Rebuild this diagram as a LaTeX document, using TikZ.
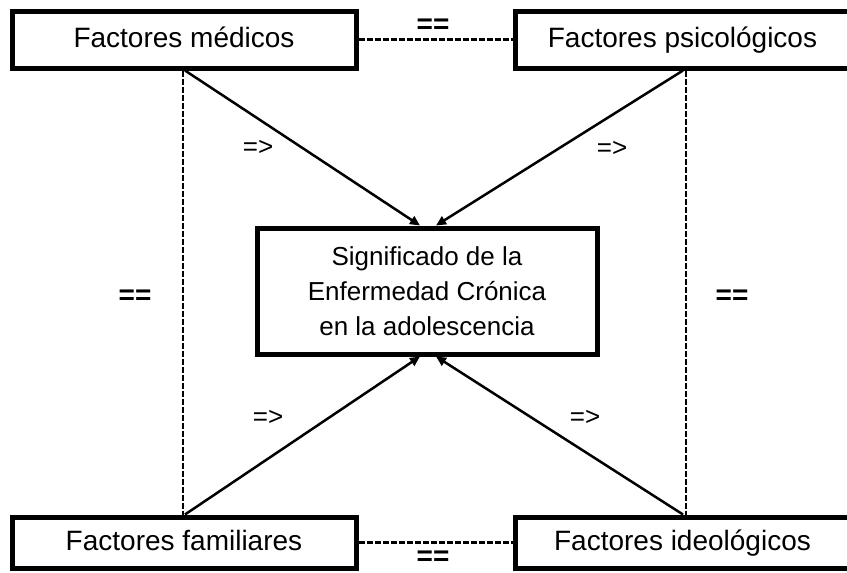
\documentclass[tikz,border=0pt]{standalone}
\usepackage{fontspec}
\setmainfont{Liberation Sans}
\usetikzlibrary{arrows.meta,calc}
\begin{document}
\begin{tikzpicture}[x=1pt,y=1pt,
  factorbox/.style={draw=black, line width=5pt, inner sep=0pt, minimum height=57pt,
     font=\fontsize{28}{34}\selectfont, text height=18pt, text depth=2pt},
  centerbox/.style={draw=black, line width=5pt, inner sep=0pt, minimum width=340pt, minimum height=126pt,
     align=center, font=\fontsize{26}{35}\selectfont},
  dsh/.style={line width=2.2pt, dash pattern=on 6pt off 2pt},
  arr/.style={line width=2.5pt, -{Triangle[length=10pt,width=9pt]}},
  eqlabel/.style={inner sep=0pt, font=\fontsize{28}{28}\selectfont\bfseries},
  implabel/.style={inner sep=0pt, font=\fontsize{26}{26}\selectfont}
]
\useasboundingbox (0,0) rectangle (847,-573);
\node[factorbox, minimum width=344pt] (med) at (184,-39.5) {Factores médicos};
\node[factorbox, minimum width=335pt] (psi) at (682.5,-39.5) {Factores psicológicos};
\node[factorbox, minimum width=344pt, minimum height=51pt] (fam) at (184,-542.5) {Factores familiares};
\node[factorbox, minimum width=335pt, minimum height=51pt] (ide) at (682.5,-542.5) {Factores ideológicos};
\node[centerbox] (c) at (427,-291) {Significado de la\\Enfermedad Crónica\\en la adolescencia};
\coordinate (lx) at (183,0);
\coordinate (rx) at (686,0);
% dashed links
\draw[dsh] (med.east) -- (psi.west);
\draw[dsh] (fam.east) -- (ide.west);
\draw[dsh] (med.south -| lx) -- (fam.north -| lx);
\draw[dsh] (psi.south -| rx) -- (ide.north -| rx);
% arrows
\draw[arr] ([xshift=2pt]med.south -| lx) -- ([xshift=-7pt]c.north);
\draw[arr] ([xshift=-3pt]psi.south -| rx) -- ([xshift=9pt]c.north);
\draw[arr] ([xshift=2pt]fam.north -| lx) -- ([xshift=-7pt]c.south);
\draw[arr] ([xshift=-3pt]ide.north -| rx) -- ([xshift=9pt]c.south);
% labels
\node[eqlabel] (e1) at (433,-26.5) {==};
\node[eqlabel] (e2) at (433,-558) {==};
\node[eqlabel] (e3) at (135,-297) {==};
\node[eqlabel] (e4) at (732,-297) {==};
\node[implabel] (i1) at (258,-148) {=>};
\node[implabel] (i2) at (612,-149) {=>};
\node[implabel] (i3) at (268,-418) {=>};
\node[implabel] (i4) at (585,-418) {=>};
\end{tikzpicture}
\end{document}
